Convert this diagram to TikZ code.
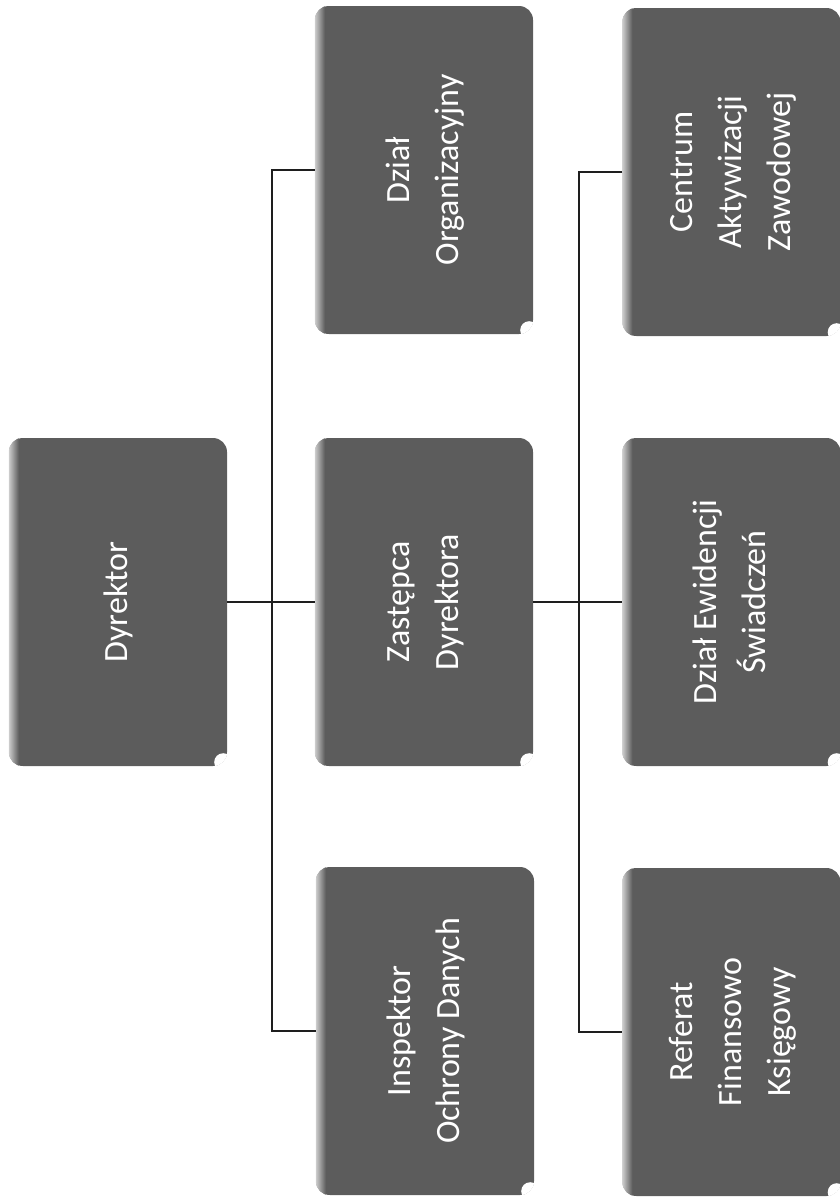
\documentclass[tikz,border=0pt]{standalone}
\usepackage{fontspec}
\setmainfont{Carlito}
\definecolor{boxgray}{RGB}{92,92,92}
\definecolor{boxlight}{RGB}{205,205,205}
\definecolor{linegray}{RGB}{30,30,30}
\newcommand{\boxtext}[1]{\rotatebox{90}{\begin{tabular}{@{}c@{}}#1\end{tabular}}}
\tikzset{
  orgbox/.style={rectangle, rounded corners=14pt, fill=boxgray, minimum width=218pt, minimum height=328pt, inner sep=0pt, text=white, font=\fontsize{34}{49}\selectfont},
  conn/.style={draw=linegray, line width=1.4pt}
}
\begin{document}
\begin{tikzpicture}[x=1pt,y=-1pt]
\useasboundingbox (0,0) rectangle (839,1197);
\node[orgbox] (dyr) at (118,602) {\boxtext{Dyrektor}};
\node[orgbox] (org) at (424,170) {\boxtext{Dział\\Organizacyjny}};
\node[orgbox] (zas) at (424,602) {\boxtext{Zastępca\\Dyrektora}};
\node[orgbox] (iod) at (425,1031) {\boxtext{Inspektor\\Ochrony Danych}};
\node[orgbox] (caz) at (731.5,172) {\boxtext{Centrum\\Aktywizacji\\Zawodowej}};
\node[orgbox] (dew) at (731.5,602) {\boxtext{Dział Ewidencji\\Świadczeń}};
\node[orgbox] (rfk) at (731.5,1032) {\boxtext{Referat\\Finansowo\\Księgowy}};
\foreach \n in {dyr,org,zas,iod,caz,dew,rfk}{
  \begin{scope}
    \clip[rounded corners=14pt] (\n.south west) rectangle (\n.north east);
    \shade[left color=boxlight, right color=boxgray] (\n.south west) rectangle ([xshift=10pt]\n.north west);
    \fill[white] ([xshift=-4pt,yshift=4pt]\n.south east) circle (9pt);
  \end{scope}
}
\coordinate (v1) at (272,0);
\coordinate (v2) at (579,0);
\draw[conn] (dyr.east) -- (zas.west);
\draw[conn] (org.west) -- (v1 |- org.west) -- (v1 |- iod.west) -- (iod.west);
\draw[conn] (zas.east) -- (dew.west);
\draw[conn] (caz.west) -- (v2 |- caz.west) -- (v2 |- rfk.west) -- (rfk.west);
\end{tikzpicture}
\end{document}
